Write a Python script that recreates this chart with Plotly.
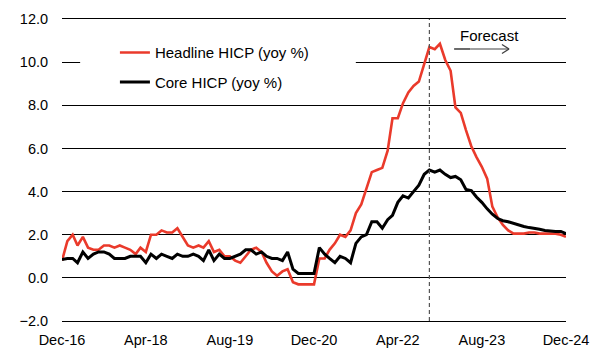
import pandas as pd
import plotly.graph_objects as go

months = pd.date_range("2016-12-01", "2024-12-01", freq="MS")

headline = [0.8, 1.7, 2.0, 1.5, 1.9, 1.4, 1.3, 1.3, 1.5, 1.5, 1.4, 1.5,
            1.4, 1.3, 1.1, 1.4, 1.2, 2.0, 2.0, 2.2, 2.1, 2.1, 2.3, 1.9,
            1.5, 1.4, 1.5, 1.4, 1.7, 1.2, 1.3, 1.0, 1.0, 0.8, 0.7, 1.0,
            1.3, 1.4, 1.2, 0.7, 0.3, 0.1, 0.3, 0.4, -0.2, -0.3, -0.3, -0.3,
            -0.3, 0.9, 0.9, 1.3, 1.6, 2.0, 1.9, 2.2, 3.0, 3.4, 4.1, 4.9,
            5.0, 5.1, 5.9, 7.4, 7.4, 8.1, 8.6, 8.9, 9.1, 9.9, 10.7, 10.6,
            10.85, 10.1, 9.6, 7.9, 7.65, 6.85, 6.1, 5.6, 5.15, 4.6, 3.3, 2.8,
            2.45, 2.2, 2.05, 2.05, 2.05, 2.1, 2.1, 2.05, 2.05, 2.05, 2.05, 2.0,
            1.9]

core = [0.85, 0.9, 0.9, 0.7, 1.2, 0.9, 1.1, 1.2, 1.2, 1.1, 0.9, 0.9,
        0.9, 1.0, 1.0, 1.0, 0.7, 1.1, 0.9, 1.1, 1.0, 0.9, 1.1, 1.0,
        1.0, 1.1, 1.0, 0.8, 1.3, 0.8, 1.1, 0.9, 0.9, 1.0, 1.1, 1.3,
        1.3, 1.1, 1.2, 1.0, 0.9, 0.9, 0.8, 1.2, 0.4, 0.2, 0.2, 0.2,
        0.2, 1.4, 1.1, 0.9, 0.7, 1.0, 0.9, 0.7, 1.6, 1.9, 2.0, 2.6,
        2.6, 2.3, 2.7, 2.9, 3.5, 3.8, 3.7, 4.0, 4.3, 4.8, 5.0, 4.9,
        5.0, 4.8, 4.65, 4.7, 4.55, 4.1, 4.05, 3.75, 3.5, 3.2, 2.95, 2.75,
        2.65, 2.6, 2.52, 2.45, 2.38, 2.33, 2.3, 2.25, 2.2, 2.17, 2.15, 2.15,
        2.05]

tick_dates = ["2016-12-01", "2018-04-01", "2019-08-01", "2020-12-01",
              "2022-04-01", "2023-08-01", "2024-12-01"]
tick_labels = ["Dec-16", "Apr-18", "Aug-19", "Dec-20", "Apr-22", "Aug-23", "Dec-24"]
forecast_start = "2022-10-01"

FONT = "Liberation Sans, Arial, sans-serif"
RED = "#EA3A2B"

fig = go.Figure()
fig.add_trace(go.Scatter(x=months, y=headline, mode="lines",
                         name="Headline HICP (yoy %)", legendgroup="a",
                         line=dict(color=RED, width=2.6)))
fig.add_trace(go.Scatter(x=months, y=core, mode="lines",
                         name="Core HICP (yoy %)", legendgroup="b",
                         line=dict(color="black", width=3)))

# white panel behind legend (hides the gridline as in the reference)
fig.add_shape(type="rect", xref="paper", yref="y", x0=0.036, x1=0.583,
              y0=9.4, y1=10.7, fillcolor="white", line=dict(width=0),
              layer="above")

# forecast divider
fig.add_shape(type="line", xref="x", yref="paper", x0=forecast_start,
              x1=forecast_start, y0=0, y1=1,
              line=dict(color="#555555", width=1.2, dash="4px,3px"))

# forecast arrow
ya = 0.9007
fig.add_shape(type="line", xref="paper", yref="paper", x0=0.778, x1=0.81,
              y0=ya, y1=ya, line=dict(color="#3a3a3a", width=1.5))
fig.add_shape(type="line", xref="paper", yref="paper", x0=0.81, x1=0.887,
              y0=ya, y1=ya, line=dict(color="#808080", width=1.5))
fig.add_shape(type="line", xref="paper", yref="paper", x0=0.873, x1=0.887,
              y0=ya + 0.015, y1=ya, line=dict(color="#404040", width=1.3))
fig.add_shape(type="line", xref="paper", yref="paper", x0=0.873, x1=0.887,
              y0=ya - 0.015, y1=ya, line=dict(color="#404040", width=1.3))
fig.add_annotation(text="Forecast", xref="paper", yref="paper",
                   x=0.7855, y=0.945, xanchor="left", yanchor="middle",
                   showarrow=False, font=dict(family=FONT, size=15, color="black"))

fig.update_layout(
    width=607, height=358,
    margin=dict(l=62, r=41, t=19, b=37),
    plot_bgcolor="white", paper_bgcolor="white",
    font=dict(family=FONT, size=14.5, color="black"),
    showlegend=True,
    legend=dict(x=0.105, y=0.943, xanchor="left", yanchor="top",
                bgcolor="rgba(0,0,0,0)", borderwidth=0,
                traceorder="grouped", tracegroupgap=7,
                font=dict(family=FONT, size=15, color="black")),
    xaxis=dict(range=["2016-12-01", "2024-12-01"], tickvals=tick_dates,
               ticktext=tick_labels, showgrid=False, zeroline=False,
               showline=True, mirror=True, linecolor="black", linewidth=1,
               ticks="outside", ticklen=6, automargin=False,
               tickcolor="rgba(0,0,0,0)"),
    yaxis=dict(range=[-2, 12], dtick=2, tick0=0, tickformat=".1f",
               showgrid=True, gridcolor="black", gridwidth=1,
               zeroline=False, showline=False, ticks="outside", ticklen=10,
               automargin=False, tickcolor="rgba(0,0,0,0)"),
)

fig.write_html("out.html", config={"displayModeBar": False},
               post_script="document.body.style.margin='0';")
